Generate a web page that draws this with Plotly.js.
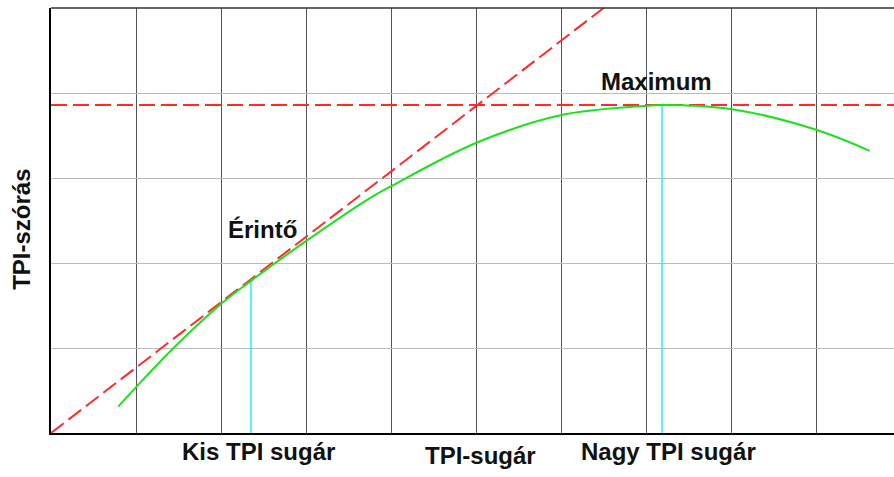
<!DOCTYPE html>
<html>
<head>
<meta charset="utf-8">
<script src="https://cdn.plot.ly/plotly-3.0.1.min.js"></script>
<style>
html,body{margin:0;padding:0;background:#fff;overflow:hidden;}
#chart{width:894px;height:477px;}
</style>
</head>
<body>
<div id="chart"></div>
<script>
// Data (axis units: one grid cell = 1)
const curveX = [0.79, 1.0, 1.44, 2.0, 2.35, 3.0, 3.71, 4.0, 5.0, 6.0, 7.0, 7.18, 8.0, 9.0, 9.62];
const curveY = [0.31, 0.54, 1.0, 1.52, 1.79, 2.26, 2.74, 2.905, 3.415, 3.74, 3.85, 3.86, 3.81, 3.565, 3.32];
const tangentX = [0, 7.0];
const tangentY = [0, 5.39];
const maxLevelX = [0, 10];
const maxLevelY = [3.86, 3.86];
const smallRadiusX = [2.35, 2.35];
const smallRadiusY = [0, 1.81];
const largeRadiusX = [7.18, 7.18];
const largeRadiusY = [0, 3.86];
const labels = {
  xTitle: "TPI-sugár",
  yTitle: "TPI-szórás",
  small: "Kis TPI sugár",
  large: "Nagy TPI sugár",
  tangent: "Érintő",
  maximum: "Maximum"
};

const font = {family: "Liberation Sans, Arial, sans-serif", size: 24, color: "#111"};

const traces = [
  {x: maxLevelX, y: maxLevelY, mode: "lines", line: {color: "#ff2a2a", width: 2, dash: "16px,6px"}, hoverinfo: "skip"},
  {x: tangentX, y: tangentY, mode: "lines", line: {color: "#ff2a2a", width: 2, dash: "16px,6px"}, hoverinfo: "skip"},
  {x: smallRadiusX, y: smallRadiusY, mode: "lines", line: {color: "#22f0f0", width: 1.5}, hoverinfo: "skip"},
  {x: largeRadiusX, y: largeRadiusY, mode: "lines", line: {color: "#22f0f0", width: 1.5}, hoverinfo: "skip"},
  {x: curveX, y: curveY, mode: "lines", line: {color: "#1ee01e", width: 2, shape: "spline", smoothing: 1}, hoverinfo: "skip"}
];

const layout = {
  width: 894, height: 477,
  margin: {l: 51, r: 0, t: 8, b: 44},
  paper_bgcolor: "#fff", plot_bgcolor: "#fff",
  showlegend: false,
  font: font,
  xaxis: {
    range: [0, 9.906], dtick: 1, tick0: 0,
    showgrid: true, gridcolor: "#555", gridwidth: 1,
    zeroline: false, showticklabels: false, ticks: "",
    showline: true, linecolor: "#000", linewidth: 1.5
  },
  yaxis: {
    range: [0, 5], dtick: 1, tick0: 0,
    showgrid: true, gridcolor: "#bbb", gridwidth: 1,
    zeroline: false, showticklabels: false, ticks: "",
    showline: true, linecolor: "#000", linewidth: 2
  },
  shapes: [
    {type: "line", xref: "paper", yref: "paper", x0: 0, x1: 1, y0: 1, y1: 1, line: {color: "#333", width: 1.5}}
  ],
  annotations: [
    {text: "<b>" + labels.maximum + "</b>", x: 7.11, y: 4.14, xref: "x", yref: "y", showarrow: false, xanchor: "center", yanchor: "middle", font: font},
    {text: "<b>" + labels.tangent + "</b>", x: 2.48, y: 2.4, xref: "x", yref: "y", showarrow: false, xanchor: "center", yanchor: "middle", font: font},
    {text: "<b>" + labels.small + "</b>", x: 2.44, y: -0.043, xref: "x", yref: "paper", showarrow: false, xanchor: "center", yanchor: "middle", font: font},
    {text: "<b>" + labels.large + "</b>", x: 7.26, y: -0.044, xref: "x", yref: "paper", showarrow: false, xanchor: "center", yanchor: "middle", font: font},
    {text: "<b>" + labels.xTitle + "</b>", x: 5.05, y: -0.054, xref: "x", yref: "paper", showarrow: false, xanchor: "center", yanchor: "middle", font: font},
    {text: "<b>" + labels.yTitle + "</b>", x: -0.0344, y: 0.478, xref: "paper", yref: "paper", showarrow: false, xanchor: "center", yanchor: "middle", textangle: -90, font: font}
  ]
};

Plotly.newPlot("chart", traces, layout, {staticPlot: true, displayModeBar: false});
</script>
</body>
</html>
